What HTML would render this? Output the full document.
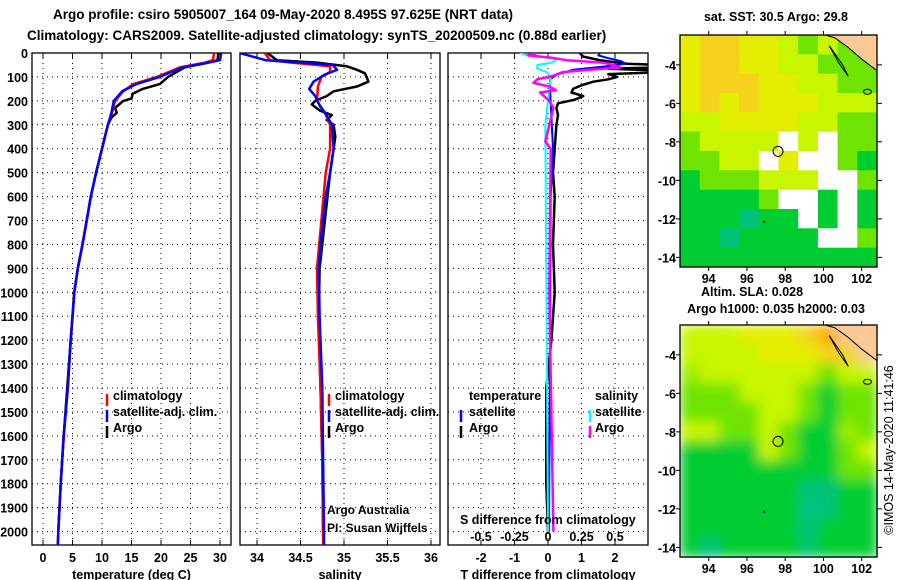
<!DOCTYPE html>
<html><head><meta charset="utf-8"><style>
html,body{margin:0;padding:0;background:#fff;}
svg{display:block;font-family:"Liberation Sans",Arial,sans-serif;}
.t{font-weight:bold;font-size:13.5px;}
.lb{font-weight:bold;font-size:12.5px;}
</style></head><body>
<svg id="chart" width="900" height="580" viewBox="0 0 900 580" xmlns="http://www.w3.org/2000/svg">
<text class="t" x="53" y="19">Argo profile: csiro 5905007_164 09-May-2020 8.495S 97.625E (NRT data)</text>
<text class="t" x="27" y="40">Climatology: CARS2009. Satellite-adjusted climatology: synTS_20200509.nc (0.88d earlier)</text>
<g id="panels"></g>
<g id="maps"></g>
</svg>
<script>
// ---------- data ----------
const depthTicks=[0,100,200,300,400,500,600,700,800,900,1000,1100,1200,1300,1400,1500,1600,1700,1800,1900,2000];
const tempTicks=[0,5,10,15,20,25,30];
const salTicks=[34,34.5,35,35.5,36];
const tdiffTicks=[-2,-1,0,1,2];
const sdiffTicks=[-0.5,-0.25,0,0.25,0.5];
const sdiffTickLabels=["-0.5","-0.25","0","0.25","0.5"];

const tempClimDepth=[0,30,40,60,100,130,160,200,250,300,400,500,600,700,800,900,1000,1200,1400,1600,1800,2000,2055];
const tempClimVal=[29,28.8,27.5,23.2,19.3,15.3,13.6,12.2,11.7,11,10,9,8.1,7.4,6.7,5.9,5.3,4.7,4.2,3.5,3,2.6,2.5];
const tempSatDepth=[0,30,40,60,100,130,160,200,250,300,400,500,600,700,800,900,1000,1200,1400,1600,1800,2000,2055];
const tempSatVal=[30.2,30,28,23.6,19.8,15.8,13.4,12,11.6,11,10,9,8.1,7.4,6.7,5.9,5.3,4.7,4.2,3.5,3.0,2.6,2.5];
const tempArgoDepth=[0,30,40,60,100,130,150,170,190,200,230,250,270,300,400,500,600,700,800,900,1000,1200,1400,1600,1800,2000];
const tempArgoVal=[29.7,29.6,28,24,21.2,19.8,16.9,15.2,15,13.6,12.2,12.5,11.6,11,10,9,8.1,7.4,6.7,5.9,5.3,4.7,4.1,3.5,3,2.6];

const salClimDepth=[0,30,40,55,80,100,140,200,250,300,400,500,700,900,1100,1400,1700,2000,2055];
const salClimVal=[34.09,34.15,34.4,34.84,34.84,34.74,34.7,34.69,34.78,34.84,34.84,34.79,34.74,34.69,34.7,34.73,34.75,34.76,34.76];
const salSatDepth=[0,20,30,40,50,70,90,120,150,180,220,260,300,400,500,600,700,800,900,1100,1400,1700,2000,2055];
const salSatVal=[33.8,34.0,34.1,34.5,34.87,34.92,34.78,34.65,34.6,34.67,34.72,34.8,34.86,34.88,34.84,34.79,34.76,34.73,34.71,34.72,34.75,34.76,34.77,34.77];
const salArgoDepth=[0,30,40,55,70,85,100,120,140,160,180,200,215,240,260,280,300,350,400,500,700,900,1100,1400,1700,2000];
const salArgoVal=[34.12,34.23,34.69,35.03,35.15,35.24,35.26,35.28,35.15,34.88,34.8,34.67,34.63,34.72,34.86,34.8,34.88,34.9,34.88,34.84,34.78,34.72,34.71,34.73,34.75,34.76];

const tdSatDepth=[0,10,20,35,45,55,70,90,110,150,400,600,2000];
const tdSatVal=[1.55,1.5,1.76,2.2,2.3,1.76,0.75,0.27,0.06,0.06,0.15,0.08,0.03];
const tdArgoDepth=[0,15,30,45,50,60,65,75,80,88,100,110,120,135,150,165,180,195,210,230,260,300,400,500,600,800,1000,1200,1400,1800,2000];
const tdArgoVal=[0.95,1.05,1.55,2.35,3.5,3.5,1.8,3.5,3.5,1.8,2.06,1.8,1.35,1.0,0.75,0.7,1.05,0.8,0.3,0.25,0.3,0.25,0.2,0.15,0.2,0.15,0.2,0.1,-0.05,-0.05,0];
const sdSatDepth=[0,10,25,40,50,65,80,100,300,2000];
const sdSatVal=[-0.21,-0.15,0.07,0.03,-0.08,-0.08,-0.01,0.02,-0.02,0];
const sdArgoDepth=[0,10,20,30,40,50,60,70,80,95,110,125,140,155,165,200,230,300,370,400,1000,2000];
const sdArgoVal=[-0.08,-0.15,0.03,0.14,0.41,0.49,0.54,0.31,0.11,0.04,-0.08,-0.11,0.01,0.06,-0.06,0.01,0.04,0.01,-0.02,0.02,0.01,0.04];

// map grids (10 cols x 12 rows), level values; null = no data, -1 = land
const sstGrid=[
[5,6,6,5,5,4,3,4,3,-1],
[5,6,6,5,5,4,4,3,3,3],
[5,6,6,6,5,5,4,4,3,3],
[5,6,5,6,5,5,5,4,4,4],
[4,4,5,5,5,5,4,4,3,3],
[3,4,4,4,4,null,4,null,3,3],
[3,3,4,4,null,5,null,null,3,2],
[2,3,3,3,4,4,4,null,null,3],
[2,2,2,2,3,null,null,2,null,2],
[2,2,2,1.5,2,2,null,2,null,2],
[2,2,1.5,2,2,2,2,null,null,3],
[2,2,2,2,2,2,2,2,2,2]];
const slaGrid=[
[4,4,4,5,5,5,6,7,-1,-1],
[4,4,4,4,5,5,5,6,6,-1],
[3.5,4,4,4,4,4,4,3,4,4],
[3,3,3,4,4,4,3,2,3,3],
[3,3,3,3,4,4,3,2,3,3],
[4,4,3,3,4,3,2,2,3.5,3],
[2,2,2,2,4,3,2,2,3,4],
[2,2,2,2,2,2,2,2,3,3],
[2,2,2,2,2,2,1.5,1.5,2,2],
[2,2,2,2,2,2,1.4,1.5,2,2],
[2,2,2,2,2,2,1.5,2,2,2],
[2,1.5,2,2,2,2,1.6,2,2,2]];
const lonTicks=[94,96,98,100,102];
const latTicks=[-4,-6,-8,-10,-12,-14];

// ---------- drawing ----------
const NS="http://www.w3.org/2000/svg";
function mk(tag,attrs,parent){const e=document.createElementNS(NS,tag);for(const k in attrs)e.setAttribute(k,attrs[k]);parent.appendChild(e);return e;}
const P=document.getElementById('panels');
const top0=53,bot0=545;
function yD(d){return top0+d*0.2393;}

const defs=mk('defs',{},P);
const blur=mk('filter',{id:'smooth',x:'0',y:'0',width:'1',height:'1'},defs);
mk('feGaussianBlur',{stdDeviation:'6',edgeMode:'duplicate'},blur);
function panel(id,x0,x1,xf,ticks,labels,title){
  const g=mk('g',{},P);
  
  
  const cp=mk('clipPath',{id:'clip-'+id},defs);
  mk('rect',{x:x0,y:top0,width:x1-x0,height:bot0-top0},cp);
  depthTicks.forEach(d=>{if(d>0){const l=mk('line',{x1:x0,x2:x1,y1:yD(d),y2:yD(d),stroke:'#000','stroke-width':1,'stroke-dasharray':'1,4'},g);
    }});
  ticks.forEach(t=>{const x=xf(t);const l=mk('line',{x1:x,x2:x,y1:top0,y2:bot0,stroke:'#000','stroke-width':1,'stroke-dasharray':'1,4'},g);
    
    mk('line',{x1:x,x2:x,y1:top0,y2:top0+5,stroke:'#000'},g);mk('line',{x1:x,x2:x,y1:bot0,y2:bot0-5,stroke:'#000'},g);});
  const r=mk('rect',{x:x0,y:top0,width:x1-x0,height:bot0-top0,fill:'none',stroke:'#000','stroke-width':1.3},g);
  
  if(labels){ticks.forEach((t,i)=>{const tx=mk('text',{x:xf(t),y:562,'text-anchor':'middle',class:'lb'},g);tx.textContent=labels[i];
    });}
  const tt=mk('text',{x:(x0+x1)/2,y:579,'text-anchor':'middle',class:'lb'},g);tt.textContent=title;
  
  return g;
}
function series(g,id,depths,vals,xf,color,w,name){
  let d='';depths.forEach((dp,i)=>{d+=(i?'L':'M')+xf(vals[i]).toFixed(1)+','+yD(dp).toFixed(1);});
  const p=mk('path',{d:d,fill:'none',stroke:color,'stroke-width':w,'stroke-linejoin':'round','clip-path':'url(#clip-'+id+')'},g);
  
}
function txt(g,x,y,s,name,cls,extra){const t=mk('text',Object.assign({x:x,y:y,class:cls||'lb'},extra||{}),g);t.textContent=s;
  return t;}
function legTick(g,x,y,color,name){const l=mk('line',{x1:x,x2:x,y1:y-11,y2:y+1,stroke:color,'stroke-width':2.5},g);
  }

depthTicks.forEach(d=>{const t=txt(P,28,yD(d)+5,String(d),'y-tick-label');t.setAttribute('text-anchor','end');});

const xT=t=>43+t*5.9;
const g1=panel('temp',32,231,xT,tempTicks,tempTicks.map(String),'temperature (deg C)');
series(g1,'temp',tempArgoDepth,tempArgoVal,xT,'#000',2.5,'argo-temperature-line');
series(g1,'temp',tempClimDepth,tempClimVal,xT,'#f00',2.5,'climatology-temperature-line');
series(g1,'temp',tempSatDepth,tempSatVal,xT,'#00f',2.5,'satellite-temperature-line');
legTick(g1,107,405,'#f00','legend-climatology-marker');txt(g1,113,400,'climatology','legend-climatology');
legTick(g1,107,421,'#00f','legend-satellite-marker');txt(g1,113,416,'satellite-adj. clim.','legend-satellite');
legTick(g1,107,437,'#000','legend-argo-marker');txt(g1,113,432,'Argo','legend-argo');

const xS=s=>257+(s-34)*87;
const g2=panel('sal',240,440,xS,salTicks,salTicks.map(String),'salinity');
series(g2,'sal',salArgoDepth,salArgoVal,xS,'#000',2.5,'argo-salinity-line');
series(g2,'sal',salClimDepth,salClimVal,xS,'#f00',2.5,'climatology-salinity-line');
series(g2,'sal',salSatDepth,salSatVal,xS,'#00f',2.5,'satellite-salinity-line');
legTick(g2,329,405,'#f00','legend-climatology-marker');txt(g2,335,400,'climatology','legend-climatology');
legTick(g2,329,421,'#00f','legend-satellite-marker');txt(g2,335,416,'satellite-adj. clim.','legend-satellite');
legTick(g2,329,437,'#000','legend-argo-marker');txt(g2,335,432,'Argo','legend-argo');
txt(g2,327,514,'Argo Australia','credit-argo-australia','',{style:'font-size:12px'});
txt(g2,327,532,'PI: Susan Wijffels','credit-pi','',{style:'font-size:12px'});

const xTD=t=>548+t*33.5;
const xSD=s=>548+s*134;
const g3=panel('diff',448,648,xTD,tdiffTicks,tdiffTicks.map(String),'T difference from climatology');
series(g3,'diff',tdArgoDepth,tdArgoVal,xTD,'#000',2.5,'argo-temp-diff-line');
series(g3,'diff',tdSatDepth,tdSatVal,xTD,'#00f',2,'satellite-temp-diff-line');
series(g3,'diff',sdSatDepth,sdSatVal,xSD,'#0ff',2,'satellite-sal-diff-line');
series(g3,'diff',sdArgoDepth,sdArgoVal,xSD,'#f0f',2.5,'argo-sal-diff-line');
txt(g3,469,400,'temperature','legend-temperature-heading');
legTick(g3,461,421,'#00f','legend-t-satellite-marker');txt(g3,469,416,'satellite','legend-t-satellite');
legTick(g3,461,437,'#000','legend-t-argo-marker');txt(g3,469,432,'Argo','legend-t-argo');
txt(g3,595,400,'salinity','legend-salinity-heading');
legTick(g3,590,421,'#0ff','legend-s-satellite-marker');txt(g3,595,416,'satellite','legend-s-satellite');
legTick(g3,590,437,'#f0f','legend-s-argo-marker');txt(g3,595,432,'Argo','legend-s-argo');
txt(g3,460,524,'S difference from climatology','s-diff-axis-title');
sdiffTicks.forEach((s,i)=>{const t=txt(g3,xSD(s),541,sdiffTickLabels[i],'s-diff-tick-label');t.setAttribute('text-anchor','middle');});

// ---------- maps ----------
const M=document.getElementById('maps');
const levels=[1,1.5,2,3,4,5,6,7];
const cols=[[0,200,170],[0,195,120],[0,205,50],[110,228,0],[200,245,0],[228,238,0],[245,210,30],[250,170,0]];
function colorOf(v){
  if(v<=levels[0])return 'rgb('+cols[0]+')';
  for(let i=1;i<levels.length;i++){if(v<=levels[i]){const f=(v-levels[i-1])/(levels[i]-levels[i-1]);
    const c=cols[i].map((c2,k)=>Math.round(cols[i-1][k]+(c2-cols[i-1][k])*f));return 'rgb('+c+')';}}
  return 'rgb('+cols[cols.length-1]+')';
}
function drawMap(id,y0,y1,grid,smooth){
  const g=mk('g',{},M);
  
  const x0=680,x1=877,lon0=92.5,lon1=102.8,lat0=-2.45,lat1=-14.5;
  const fx=lo=>x0+(lo-lon0)/(lon1-lon0)*(x1-x0);
  const fy=la=>y0+(la-lat0)/(lat1-lat0)*(y1-y0);
  const nr=grid.length,nc=grid[0].length,cw=(x1-x0)/nc,ch=(y1-y0)/nr;
  const cells=mk('g',smooth?{filter:'url(#smooth)'}:{},g);
  
  grid.forEach((row,r)=>row.forEach((v,c)=>{
    const fill=v===null?'#fff':(v===-1?'#fbc996':colorOf(v));
    const rc=mk('rect',{x:(x0+c*cw).toFixed(1),y:(y0+r*ch).toFixed(1),width:(cw+0.6).toFixed(1),height:(ch+0.6).toFixed(1),fill:fill},cells);
    
  }));
  const land=mk('path',{d:'M'+fx(100.1)+','+y0+' L'+x1+','+y0+' L'+x1+','+fy(-4.3)+' L'+fx(102)+','+fy(-3.7)+' L'+fx(101.3)+','+fy(-3.1)+' L'+fx(100.6)+','+fy(-2.6)+'Z',fill:'#fbc996',stroke:'#000','stroke-width':1},g);
  
  const isl=mk('path',{d:'M'+fx(100.3)+','+fy(-3)+' L'+fx(101)+','+fy(-4)+' L'+fx(101.3)+','+fy(-4.6)+' L'+fx(100.8)+','+fy(-3.9)+'Z',fill:'none',stroke:'#000','stroke-width':1},g);
  
  const el=mk('ellipse',{cx:fx(102.3),cy:fy(-5.4),rx:4,ry:2.5,fill:'none',stroke:'#000'},g);
  
  const circ=mk('circle',{cx:fx(97.625),cy:fy(-8.495),r:5,fill:'none',stroke:'#000','stroke-width':1},g);
  
  const dot=mk('rect',{x:fx(96.9)-1,y:fy(-12.15)-1,width:2,height:2,fill:'#000'},g);
  
  const fr=mk('rect',{x:x0,y:y0,width:x1-x0,height:y1-y0,fill:'none',stroke:'#000','stroke-width':1.3},g);
  
  latTicks.forEach(la=>{const y=fy(la);
    mk('line',{x1:x1,x2:x1+5,y1:y,y2:y,stroke:'#000'},g);mk('line',{x1:x0-4,x2:x0,y1:y,y2:y,stroke:'#000'},g);
    const t=txt(g,676,y+5,String(la),'lat-tick-label');t.setAttribute('text-anchor','end');});
  lonTicks.forEach(lo=>{const x=fx(lo);
    mk('line',{x1:x,x2:x,y1:y0-4,y2:y0,stroke:'#000'},g);mk('line',{x1:x,x2:x,y1:y1,y2:y1+4,stroke:'#000'},g);
    const t=txt(g,x,y1+16,String(lo),'lon-tick-label');t.setAttribute('text-anchor','middle');});
  return g;
}
drawMap('sst-map',35,267,sstGrid,false);
drawMap('sla-map',325,557,slaGrid,true);
const mt=txt(M,776,21,'sat. SST: 30.5 Argo: 29.8','sst-map-title');mt.setAttribute('text-anchor','middle');
const st=txt(M,752,296,'Altim. SLA: 0.028','sla-map-title');st.setAttribute('text-anchor','middle');
const ht=txt(M,776,313,'Argo h1000: 0.035 h2000: 0.03','argo-height-title');ht.setAttribute('text-anchor','middle');
const cr=txt(M,0,0,'©IMOS 14-May-2020 11:41:46','imos-timestamp','',{transform:'translate(893,450) rotate(-90)','text-anchor':'middle',style:'font-size:12.5px;font-weight:normal'});
</script>
</body></html>
